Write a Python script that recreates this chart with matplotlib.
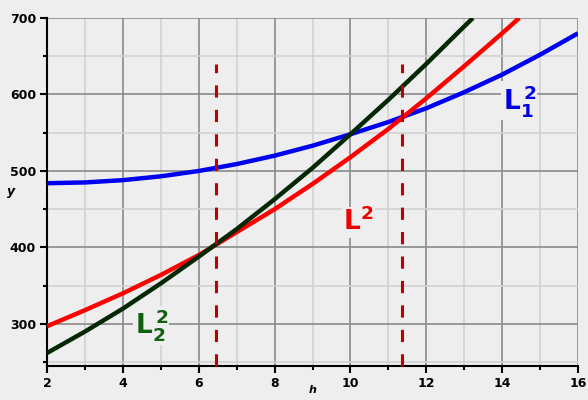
import numpy as np
import matplotlib.pyplot as plt

# Kurvendaten
h_l1 = [2, 3, 4, 5, 6, 7, 8, 9, 10, 11, 12, 13, 14, 15, 16]
l1_sq = [484, 485, 488, 493, 500, 509, 520, 533, 548, 564, 582, 603, 626, 652, 680]

h_l = [2, 3, 4, 5, 6, 7, 8, 9, 10, 11, 12, 13, 14, 14.45]
l_sq = [297, 318, 340, 364, 390, 420, 450, 483, 518, 555, 595, 637, 680, 700]

h_l2 = [2, 3, 4, 5, 6, 7, 8, 9, 10, 11, 12, 13, 13.23]
l2_sq = [262, 290, 320, 353, 388, 424, 463, 504, 548, 593, 640, 689, 700]

h_cross = [6.45, 11.35]
cross_top = 640

bg = "#eeeeee"
fig = plt.figure(figsize=(5.88, 4.0), dpi=100, facecolor=bg)
ax = fig.add_axes([0.080, 0.085, 0.903, 0.870], facecolor=bg)

ax.set_xlim(2, 16)
ax.set_ylim(245, 700)

# Gitter
ax.set_xticks(np.arange(2, 17, 2))
ax.set_xticks(np.arange(3, 16, 2), minor=True)
ax.set_yticks([300, 400, 500, 600, 700])
ax.set_yticks([250, 350, 450, 550, 650], minor=True)
ax.grid(True, which="major", color="#8a8a8a", lw=1.2, zorder=0)
ax.grid(True, which="minor", color="#d2d2d2", lw=1.2, zorder=0)
ax.set_axisbelow(True)

for s in ["top", "right"]:
    ax.spines[s].set_visible(False)
for s in ["left", "bottom"]:
    ax.spines[s].set_linewidth(1.5)
ax.tick_params(which="major", length=5, width=1.5, labelsize=9, pad=3)
ax.tick_params(which="minor", length=3, width=1.5)
for lab in ax.get_xticklabels() + ax.get_yticklabels():
    lab.set_fontweight("bold")

# Kurven
ax.plot(h_l1, l1_sq, color="#0000f0", lw=3.2, solid_capstyle="butt", zorder=3)
ax.plot(h_l, l_sq, color="#ff0000", lw=3.2, solid_capstyle="butt", zorder=3)
ax.plot(h_l2, l2_sq, color="#042804", lw=3.2, solid_capstyle="butt", zorder=4)

# gestrichelte Linien
for xc in h_cross:
    ax.plot([xc, xc], [245, cross_top], color="#c00000", lw=2.2,
            dashes=(4, 4), zorder=5, clip_on=False)

# Beschriftungen
box = dict(facecolor=bg, edgecolor="none", pad=1)
ax.text(14.45, 592, r"$\mathbf{L_1^{\,2}}$", color="#0000e0", fontsize=19,
        ha="center", va="center", bbox=box, zorder=2)
ax.text(10.2, 433, r"$\mathbf{L^{2}}$", color="#ee0000", fontsize=19,
        ha="center", va="center", bbox=box, zorder=2)
ax.text(4.75, 298, r"$\mathbf{L_2^{\,2}}$", color="#106010", fontsize=19,
        ha="center", va="center", bbox=box, zorder=2)

# Achsentitel
fig.text(313 / 588, 1 - 390 / 400, "h", fontsize=8, fontweight="bold",
         style="italic", ha="center", va="center")
fig.text(11 / 588, 1 - 192 / 400, "y", fontsize=9, fontweight="bold",
         style="italic", ha="center", va="center")

fig.savefig("out.png", dpi=100, facecolor=bg)
